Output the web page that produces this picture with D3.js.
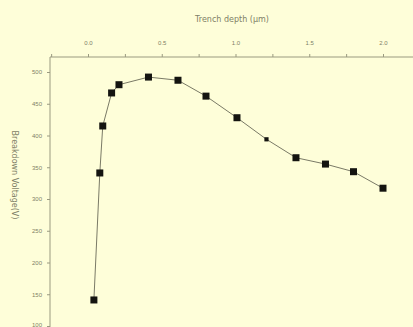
<!DOCTYPE html>
<html><head><meta charset="utf-8">
<script src="https://cdn.jsdelivr.net/npm/d3@7"></script>
<style>html,body{margin:0;padding:0;background:#fefed9;}svg{display:block;font-family:"DejaVu Sans",sans-serif;}</style>
</head><body>
<script>
const xValues = [0.04, 0.08, 0.10, 0.16, 0.21, 0.41, 0.61, 0.80, 1.01, 1.21, 1.41, 1.61, 1.80, 2.00];
const yValues = [141, 341, 415, 467, 480, 492, 487, 462, 428, 394, 365, 355, 343, 317];
const markerSize = [1,1,1,1,1,1,1,1,1,0.6,1,1,1,1];
const xTicks = [0, 0.5, 1.0, 1.5, 2.0];
const xTickLabels = ["0.0", "0.5", "1.0", "1.5", "2.0"];
const yTicks = [500, 450, 400, 350, 300, 250, 200, 150, 100];
const xTitle = "Trench depth (μm)";
const yTitle = "Breakdown Voltage(V)";

const W = 413, H = 327;
const svg = d3.select("body").append("svg").attr("width", W).attr("height", H);
svg.append("rect").attr("width", W).attr("height", H).attr("fill", "#fefed9");

const x = d3.scaleLinear().domain([0, 2]).range([88, 383]);
const y = d3.scaleLinear().domain([100, 500]).range([326, 72]);
const axisColor = "#9a9a80", textColor = "#7e7e66";

// top axis
const gx = svg.append("g").attr("transform", "translate(0,57)")
  .call(d3.axisTop(x).tickValues(d3.range(-0.25, 2.5, 0.25)).tickSize(3).tickFormat((d) => {
    const i = xTicks.findIndex(t => Math.abs(t - d) < 1e-6);
    return i >= 0 ? xTickLabels[i] : "";
  }));
gx.select(".domain").attr("d", "M50,0H413").attr("stroke", axisColor);
gx.selectAll(".tick line").attr("stroke", axisColor);
gx.selectAll(".tick text").attr("fill", textColor).attr("font-size", 6).attr("dy", "-6");

// left axis
const gy = svg.append("g").attr("transform", "translate(50,0)")
  .call(d3.axisLeft(y).tickValues(yTicks).tickSize(3).tickFormat(d3.format("d")));
gy.select(".domain").attr("d", "M0,57V327").attr("stroke", axisColor);
gy.selectAll(".tick line").attr("stroke", axisColor);
gy.selectAll(".tick text").attr("fill", textColor).attr("font-size", 6).attr("x", -8);
gy.selectAll(".tick").filter(d => d === 100).select("text").attr("dy", "0.1em");

svg.append("text").attr("x", 232).attr("y", 22).attr("text-anchor", "middle")
  .attr("font-size", 8).attr("fill", textColor).text(xTitle);
svg.append("text").attr("transform", "translate(12,175) rotate(90)").attr("text-anchor", "middle")
  .attr("font-size", 8).attr("fill", textColor).text(yTitle);

const data = xValues.map((v, i) => ({x: v, y: yValues[i], s: markerSize[i]}));
svg.append("path").datum(data)
  .attr("d", d3.line().x(d => x(d.x)).y(d => y(d.y)))
  .attr("fill", "none").attr("stroke", "#7a7a66").attr("stroke-width", 1);
svg.selectAll("rect.m").data(data).enter().append("rect").attr("class", "m")
  .attr("x", d => x(d.x) - 3.5 * d.s).attr("y", d => y(d.y) - 3.5 * d.s)
  .attr("width", d => 7 * d.s).attr("height", d => 7 * d.s).attr("fill", "#141410");
</script>
</body></html>
